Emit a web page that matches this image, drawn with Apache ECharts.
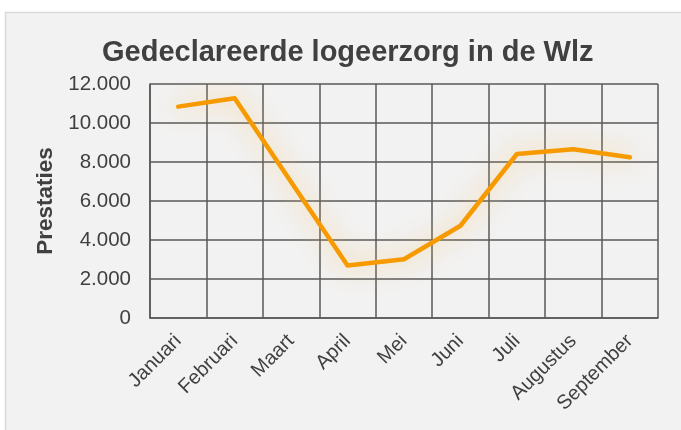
<!DOCTYPE html>
<html>
<head>
<meta charset="utf-8">
<script src="https://cdn.jsdelivr.net/npm/echarts@6/dist/echarts.min.js"></script>
<style>
html,body{margin:0;padding:0;background:#ffffff;}
#chart{width:681px;height:430px;}
</style>
</head>
<body>
<div id="chart"></div>
<script>
const titleText = 'Gedeclareerde logeerzorg in de Wlz';
const yAxisName = 'Prestaties';
const categories = ['Januari','Februari','Maart','April','Mei','Juni','Juli','Augustus','September'];
const prestaties = [10840, 11270, 6970, 2690, 3010, 4730, 8410, 8650, 8240];
const yMin = 0, yMax = 12000, yStep = 2000;

const chart = echarts.init(document.getElementById('chart'), null, {renderer:'canvas'});
const fmt = v => v === 0 ? '0' : String(v).replace(/\B(?=(\d{3})+(?!\d))/g, '.');
const gridColor = '#595959';
chart.setOption({
  backgroundColor: '#ffffff',
  animation: false,
  graphic: [{
    type: 'rect', silent: true, z: -10,
    shape: {x: 5.5, y: 12.5, width: 700, height: 440},
    style: {fill: '#f2f2f2', stroke: '#d9d9d9', lineWidth: 1.5}
  }],
  title: {
    text: titleText,
    left: 97, top: 33,
    textStyle: {fontFamily: 'Liberation Sans, Arial, sans-serif', fontSize: 29, fontWeight: 'bold', color: '#404040'}
  },
  grid: {left: 150, right: 23, top: 84, bottom: 112, containLabel: false},
  xAxis: {
    type: 'category',
    data: categories,
    boundaryGap: true,
    axisLine: {show: true, lineStyle: {color: gridColor, width: 1.5}},
    axisTick: {show: false},
    splitLine: {show: true, lineStyle: {color: gridColor, width: 1.5}},
    axisLabel: {
      rotate: 45, interval: 0, margin: 20, align: 'right', verticalAlign: 'middle',
      fontFamily: 'Liberation Sans, Arial, sans-serif', fontSize: 20, color: '#404040'
    }
  },
  yAxis: {
    type: 'value',
    min: yMin, max: yMax, interval: yStep,
    name: yAxisName,
    nameLocation: 'middle',
    nameGap: 92,
    nameTextStyle: {fontFamily: 'Liberation Sans, Arial, sans-serif', fontSize: 22.5, fontWeight: 'bold', color: '#404040'},
    axisLine: {show: true, lineStyle: {color: gridColor, width: 1.5}},
    axisTick: {show: false},
    splitLine: {show: true, lineStyle: {color: gridColor, width: 1.5}},
    axisLabel: {
      margin: 19, formatter: fmt,
      fontFamily: 'Liberation Sans, Arial, sans-serif', fontSize: 20.5, color: '#404040'
    }
  },
  series: [{
    type: 'line',
    data: prestaties,
    symbol: 'none',
    smooth: false,
    lineStyle: {
      color: '#f79a00', width: 4.5, cap: 'round', join: 'round',
      shadowColor: 'rgba(245, 185, 90, 0.85)', shadowBlur: 26
    },
    z: 5
  }]
});
</script>
</body>
</html>
